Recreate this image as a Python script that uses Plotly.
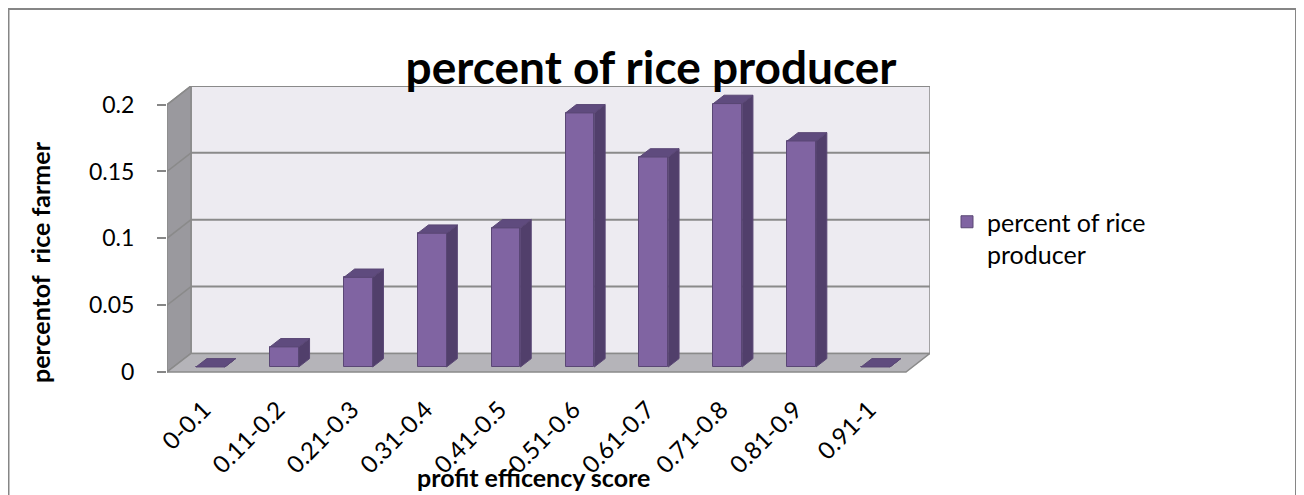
import plotly.graph_objects as go

# ---------------- data ----------------
categories = ["0-0.1", "0.11-0.2", "0.21-0.3", "0.31-0.4", "0.41-0.5",
              "0.51-0.6", "0.61-0.7", "0.71-0.8", "0.81-0.9", "0.91-1"]
values = [0.0, 0.015, 0.067, 0.100, 0.104, 0.190, 0.157, 0.197, 0.169, 0.0]
y_tickvals = [0, 0.05, 0.1, 0.15, 0.2]
y_ticktext = ["0", "0.05", "0.1", "0.15", "0.2"]
series_name = "percent of rice<br>producer"
chart_title = "percent of rice producer"
x_title = "profit efficency score"
y_title = "percentof\u00a0 rice farmer"

# ---------------- geometry / style ----------------
OFF = 8                          # page body margin of the html page
W, H = 1304 - OFF, 495 - OFF
ML, MR, MT = 167 - OFF, 374, 86 - OFF
MB = H - (376 - OFF)
YMAX = 0.2
DX, DY = 0.325, 0.0139          # full depth offset (category units, value units)
D_FRONT, D_BACK = 0.27, 0.72     # bar depth span
BAR_W = 0.39
N = len(categories)
FONT = "Lato"

FRONT = "#8064A2"
SIDE = "#513F6B"
TOP = "#5F4B7E"
EDGE = "#5A4775"
WALL_BACK = "#EDEBF1"
WALL_SIDE = "#9A999E"
FLOOR = "#B5B4B9"
GRID = "#8A8A8A"

centers = [i + 0.5 for i in range(N)]
bar_x = [c + D_FRONT * DX for c in centers]
base = D_FRONT * DY
dd = D_BACK - D_FRONT

fig = go.Figure()

# front faces (real bar trace, used for the legend)
fig.add_trace(go.Bar(
    x=bar_x, y=values, base=[base] * N, width=BAR_W,
    marker=dict(color=FRONT, line=dict(color=EDGE, width=1)),
    name=series_name, showlegend=True, hoverinfo="skip",
))

# side faces
sx, sy = [], []
for xc, v in zip(bar_x, values):
    xr = xc + BAR_W / 2
    sx += [xr, xr, xr + dd * DX, xr + dd * DX, xr, None]
    sy += [base, base + v, base + v + dd * DY, base + dd * DY, base, None]
fig.add_trace(go.Scatter(x=sx, y=sy, mode="lines", fill="toself",
                         fillcolor=SIDE, line=dict(color=EDGE, width=1),
                         showlegend=False, hoverinfo="skip"))

# top faces
tx, ty = [], []
for xc, v in zip(bar_x, values):
    xl, xr = xc - BAR_W / 2, xc + BAR_W / 2
    yt = base + v
    tx += [xl, xr, xr + dd * DX, xl + dd * DX, xl, None]
    ty += [yt, yt, yt + dd * DY, yt + dd * DY, yt, None]
fig.add_trace(go.Scatter(x=tx, y=ty, mode="lines", fill="toself",
                         fillcolor=TOP, line=dict(color=EDGE, width=1),
                         showlegend=False, hoverinfo="skip"))

# ---------------- walls & floor (shapes in data coords) ----------------
shapes = []
shapes.append(dict(type="rect", xref="x", yref="y", layer="below",
                   x0=DX, x1=N + DX, y0=DY, y1=YMAX + DY,
                   fillcolor=WALL_BACK, line=dict(color=GRID, width=1.5)))
shapes.append(dict(type="path", xref="x", yref="y", layer="below",
                   path=f"M 0,0 L {DX},{DY} L {DX},{YMAX + DY} L 0,{YMAX} Z",
                   fillcolor=WALL_SIDE, line=dict(color=GRID, width=1.5)))
shapes.append(dict(type="path", xref="x", yref="y", layer="below",
                   path=f"M 0,0 L {N},0 L {N + DX},{DY} L {DX},{DY} Z",
                   fillcolor=FLOOR, line=dict(color=GRID, width=1.5)))
for v in y_tickvals[1:]:
    shapes.append(dict(type="line", xref="x", yref="y", layer="below",
                       x0=DX, x1=N + DX, y0=v + DY, y1=v + DY,
                       line=dict(color=GRID, width=2)))
    shapes.append(dict(type="line", xref="x", yref="y", layer="below",
                       x0=0, x1=DX, y0=v, y1=v + DY,
                       line=dict(color=GRID, width=1.5)))

# helpers: screen pixel -> paper coords
pw = W - ML - MR
ph = H - MT - MB
def px_x(p):
    return (p - OFF - ML) / pw
def px_y(p):
    return (H - MB - (p - OFF)) / ph

# outer chart border
shapes.append(dict(type="rect", xref="paper", yref="paper",
                   x0=px_x(8.5), x1=px_x(1296), y0=px_y(9), y1=px_y(530),
                   line=dict(color="#868686", width=2), fillcolor="rgba(0,0,0,0)"))

annotations = [
    dict(text=f"<b>{x_title}</b>", xref="paper", yref="paper",
         x=px_x(533), y=px_y(477), showarrow=False,
         xanchor="center", yanchor="middle",
         font=dict(family=FONT, size=25, color="#000000")),
    dict(text=f"<b>{y_title}</b>", xref="paper", yref="paper",
         x=px_x(40), y=px_y(262), showarrow=False, textangle=-90,
         xanchor="center", yanchor="middle",
         font=dict(family=FONT, size=25, color="#000000")),
]

fig.update_layout(
    width=W, height=H,
    margin=dict(l=ML, r=MR, t=MT, b=MB, pad=0),
    paper_bgcolor="white", plot_bgcolor="white",
    title=dict(text=f"<b>{chart_title}</b>", x=(651 - OFF) / W, xref="container",
               y=1 - (68 - OFF) / H, yref="container", xanchor="center", yanchor="middle",
               font=dict(family=FONT, size=46, color="#000000")),
    font=dict(family=FONT, color="#000000"),
    shapes=shapes,
    annotations=annotations,
    showlegend=True,
    legend=dict(x=px_x(947), y=px_y(199), xanchor="left", yanchor="top",
                font=dict(family=FONT, size=25, color="#000000"),
                bgcolor="rgba(0,0,0,0)", borderwidth=0, valign="top"),
    bargap=0,
    xaxis=dict(range=[0, N + DX], tickvals=centers, ticktext=categories,
               tickangle=-45, showgrid=False, zeroline=False, showline=False,
               ticks="", ticklabelstandoff=14,
               tickfont=dict(family=FONT, size=24, color="#000000"),
               fixedrange=True),
    yaxis=dict(range=[-0.003, YMAX + DY], tickvals=y_tickvals, ticktext=y_ticktext,
               showgrid=False, zeroline=False, showline=False,
               ticks="outside", ticklen=9, tickwidth=2, tickcolor="#868686",
               ticklabelstandoff=18,
               tickfont=dict(family=FONT, size=23, color="#000000"),
               fixedrange=True),
)

fig.write_html("out.html")
